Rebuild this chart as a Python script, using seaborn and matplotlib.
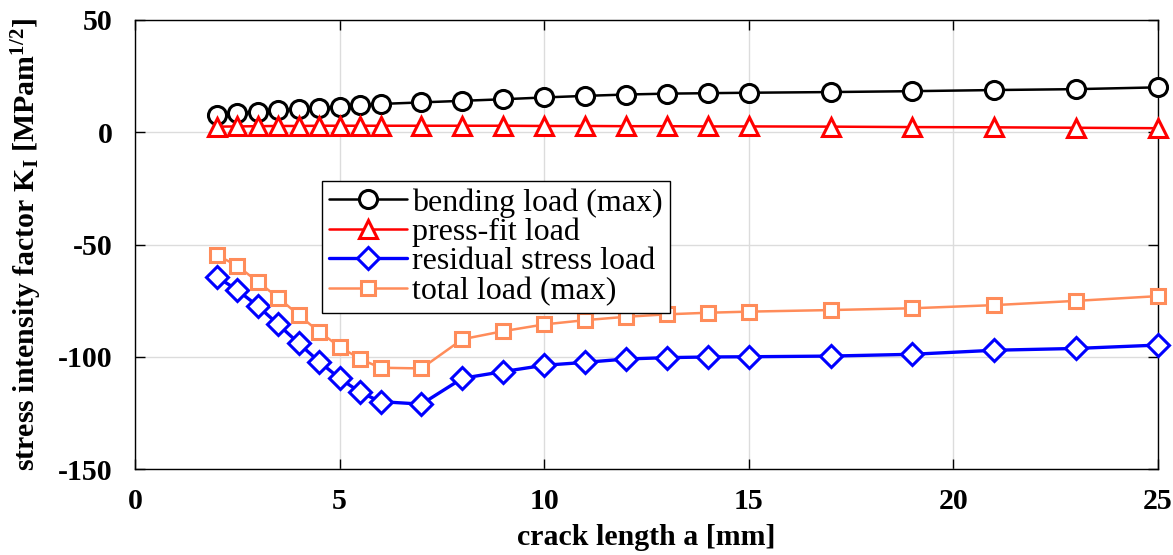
import matplotlib
matplotlib.use("Agg")
import matplotlib.pyplot as plt
import seaborn as sns
import pandas as pd

# ---- data ----
crack_length = [2, 2.5, 3, 3.5, 4, 4.5, 5, 5.5, 6, 7, 8, 9, 10, 11, 12, 13, 14, 15, 17, 19, 21, 23, 25]
bending = [7.7, 8.6, 9.0, 9.9, 10.3, 10.9, 11.4, 12.0, 12.6, 13.3, 14.0, 14.7, 15.5, 16.2, 16.8, 17.2,
           17.4, 17.6, 17.9, 18.3, 18.8, 19.2, 20.0]
press_fit = [2.5, 2.6, 2.7, 2.8, 2.8, 2.9, 2.9, 2.9, 2.9, 2.9, 2.9, 2.9, 2.8, 2.8, 2.7, 2.7,
             2.6, 2.6, 2.5, 2.3, 2.2, 2.0, 1.8]
residual = [-64.4, -70.3, -77.4, -85.6, -94.0, -102.2, -109.6, -115.8, -120.0, -121.1, -109.6, -106.6,
            -103.8, -102.5, -101.0, -100.4, -100.1, -100.0, -99.7, -98.9, -97.1, -96.3, -94.8]
total = [-54.7, -59.5, -66.6, -73.7, -81.4, -88.9, -95.5, -101.0, -104.9, -105.2, -92.2, -88.6,
         -85.6, -83.7, -82.2, -81.1, -80.4, -79.9, -79.2, -78.4, -77.0, -75.1, -73.0]

series_names = ["bending load (max)", "press-fit load", "residual stress load", "total load (max)"]
series_values = [bending, press_fit, residual, total]
x_ticks = [0, 5, 10, 15, 20, 25]
y_ticks = [-150, -100, -50, 0, 50]

colors = ["black", "#ff0000", "#0000ff", "#ff8c5a"]
markers = ["o", "^", "D", "s"]
msizes = [13, 13, 11, 9.5]
lws = [1.8, 1.8, 2.4, 1.8]

sns.set_style("whitegrid")
plt.rcParams["font.family"] = ["Liberation Serif", "DejaVu Serif"]
plt.rcParams["mathtext.fontset"] = "custom"
plt.rcParams["mathtext.rm"] = "Liberation Serif:bold"
plt.rcParams["mathtext.it"] = "Liberation Serif:bold"
plt.rcParams["mathtext.bf"] = "Liberation Serif:bold"
plt.rcParams["axes.unicode_minus"] = False
plt.rcParams["text.color"] = "black"
plt.rcParams["axes.labelcolor"] = "black"
plt.rcParams["legend.labelcolor"] = "black"

fig = plt.figure(figsize=(11.73, 5.55), dpi=100)
ax = fig.add_axes([135 / 1173, 1 - 469 / 555, (1158 - 135) / 1173, (469 - 20) / 555])

for name, vals, c, m, ms, lw in zip(series_names, series_values, colors, markers, msizes, lws):
    df = pd.DataFrame({"a": crack_length, "K": vals})
    sns.lineplot(data=df, x="a", y="K", ax=ax, color=c, marker=m, markersize=ms,
                 markerfacecolor="white", markeredgecolor=c, markeredgewidth=2.2,
                 linewidth=lw, label=name, clip_on=False, zorder=3)

ax.set_xlim(0, 25)
ax.set_ylim(-150, 50)
ax.set_xticks(x_ticks)
ax.set_yticks(y_ticks)
ax.grid(True, color="#dcdcdc", linewidth=1.0)
for s in ax.spines.values():
    s.set_color("black")
    s.set_linewidth(1.0)
    s.set_visible(True)
ax.tick_params(axis="both", which="both", direction="in", length=7, width=1,
               colors="black", labelsize=21.5, top=True, right=True, bottom=True, left=True)
ax.tick_params(axis="y", pad=16)
ax.tick_params(axis="x", pad=14)
for lab in ax.get_xticklabels() + ax.get_yticklabels():
    lab.set_fontweight("bold")

ax.set_xlabel("crack length a [mm]", fontsize=21.5, fontweight="bold", labelpad=6, color="black")
ax.set_ylabel(r"stress intensity factor K$_\mathrm{I}$ [MPam$^{1/2}$]", fontsize=21.5,
              fontweight="bold", labelpad=10, color="black")

leg = ax.legend(loc="upper left", bbox_to_anchor=(322 / 1173, 1 - 181 / 555),
                bbox_transform=fig.transFigure, fontsize=23, frameon=True, fancybox=False,
                handlelength=2.45, handletextpad=0.15, borderpad=0.22, labelspacing=0.0,
                borderaxespad=0)
leg.get_frame().set_edgecolor("black")
leg.get_frame().set_linewidth(1.0)
leg.get_frame().set_alpha(1.0)
for t in leg.get_texts():
    t.set_color("black")

fig.savefig("out.png", dpi=100)
